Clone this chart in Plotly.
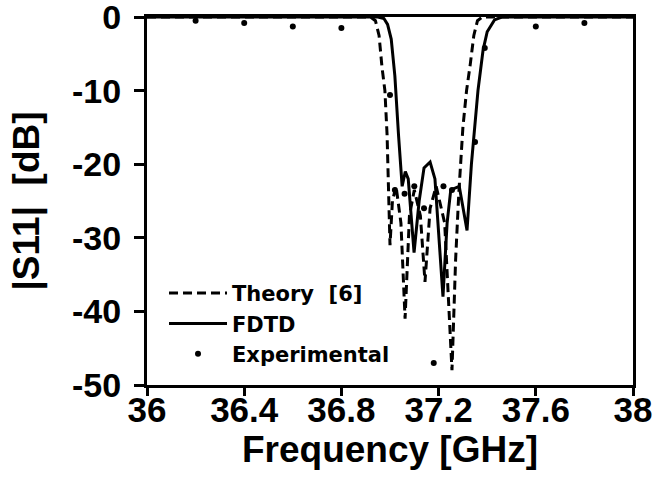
import plotly.graph_objects as go

# Theory [6] (dashed)
theory_f = [36.0, 36.92, 36.94, 36.955, 36.967, 36.979, 36.988, 36.994, 37.0, 37.01,
            37.025, 37.045, 37.062, 37.08, 37.10, 37.125, 37.144, 37.165, 37.19, 37.225,
            37.255, 37.27, 37.283, 37.30, 37.315, 37.33, 37.345, 37.36, 37.38, 38.0]
theory_db = [0, 0, -0.5, -2.5, -6.8, -10, -16, -24, -31, -25,
             -23, -28, -41, -27, -23.5, -27, -36, -26, -23, -28,
             -48, -33, -24, -15, -10, -6.5, -2.5, -0.5, 0, 0]

# FDTD (solid)
fdtd_f = [36.0, 36.95, 36.975, 36.99, 37.005, 37.02, 37.035, 37.05, 37.063, 37.075,
          37.099, 37.12, 37.14, 37.165, 37.185, 37.218, 37.235, 37.25, 37.285, 37.317,
          37.335, 37.35, 37.362, 37.383, 37.40, 37.43, 37.46, 38.0]
fdtd_db = [0, 0, -0.2, -1, -3, -8, -16, -23, -21, -22,
           -32, -25, -20.5, -19.7, -22, -38, -28, -23.5, -23, -29,
           -20, -14, -10, -4.5, -2, -0.4, 0, 0]

# Experimental (dots)
exp_f = [36.2, 36.4, 36.6, 36.8, 37.0, 37.02, 37.06, 37.10, 37.14, 37.18,
         37.22, 37.255, 37.35, 37.39, 37.6, 37.8]
exp_db = [-0.5, -0.8, -1.3, -1.5, -10.6, -23.5, -24, -23, -26, -47,
          -23, -23.5, -17, -4.2, -1.3, -0.8]

x_ticks = [36, 36.4, 36.8, 37.2, 37.6, 38]
x_tick_text = ["36", "36.4", "36.8", "37.2", "37.6", "38"]
y_ticks = [0, -10, -20, -30, -40, -50]
y_tick_text = ["0", "-10", "-20", "-30", "-40", "-50"]

FONT = "Liberation Sans"
LEG_FONT = "DejaVu Sans"

fig = go.Figure()
fig.add_trace(go.Scatter(x=theory_f, y=theory_db, mode="lines", name="Theory\u00a0 [6]",
                         line=dict(color="black", width=3, dash="9px,5px")))
fig.add_trace(go.Scatter(x=fdtd_f, y=fdtd_db, mode="lines", name="FDTD",
                         line=dict(color="black", width=3)))
fig.add_trace(go.Scatter(x=exp_f, y=exp_db, mode="markers", name="Experimental",
                         marker=dict(color="black", size=6)))

fig.update_layout(
    width=655, height=483,
    margin=dict(l=147, r=22, t=17, b=98),
    paper_bgcolor="white", plot_bgcolor="white",
    font=dict(family=FONT, color="black"),
    legend=dict(x=0.035, y=0.03, xanchor="left", yanchor="bottom",
                bgcolor="rgba(0,0,0,0)", borderwidth=0,
                font=dict(family=LEG_FONT, size=21, weight="bold", color="black"),
                tracegroupgap=0, itemwidth=58),
    showlegend=True,
)
fig.update_xaxes(
    range=[36, 38], tickvals=x_ticks, ticktext=x_tick_text,
    showgrid=False, zeroline=False,
    showline=True, linecolor="black", linewidth=3, mirror=True,
    ticks="outside", ticklen=8, tickwidth=3, tickcolor="black",
    ticklabeloverflow="allow", automargin=False, ticklabelstandoff=-16,
    tickfont=dict(family=FONT, size=35, weight="bold", color="black"),
    title=dict(text="Frequency [GHz]", standoff=9,
               font=dict(family=FONT, size=37, weight="bold", color="black")),
)
fig.update_yaxes(
    range=[-50, 0], tickvals=y_ticks, ticktext=y_tick_text,
    showgrid=False, zeroline=False,
    showline=True, linecolor="black", linewidth=3, mirror=True,
    ticks="outside", ticklen=10, tickwidth=3, tickcolor="black",
    ticklabeloverflow="allow", automargin=False, ticklabelstandoff=6,
    tickfont=dict(family=FONT, size=34, weight="bold", color="black"),
    title=dict(text="|S11|\u00a0 [dB]", standoff=22,
               font=dict(family=FONT, size=37, weight="bold", color="black")),
)

fig.write_html("out.html", config={"displayModeBar": False},
               post_script="document.body.style.margin='0';document.body.style.overflow='hidden';")
